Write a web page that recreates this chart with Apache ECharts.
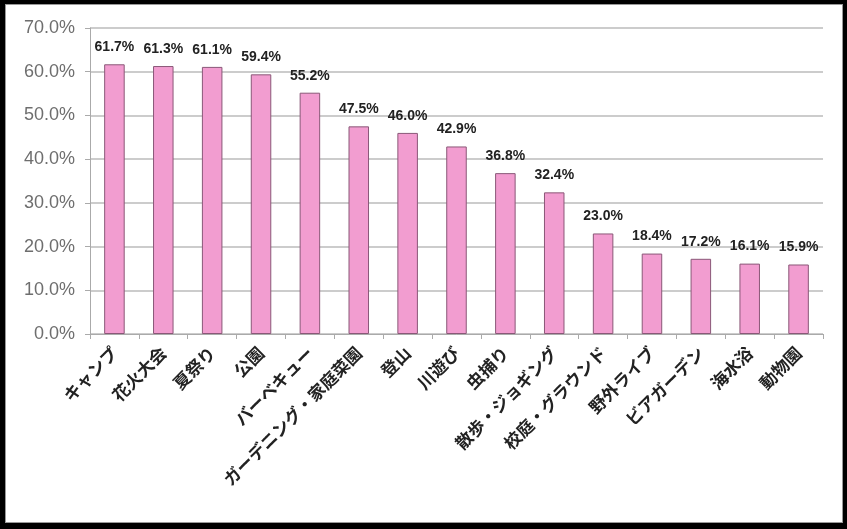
<!DOCTYPE html>
<html><head><meta charset="utf-8">
<script src="https://cdn.jsdelivr.net/npm/echarts@6/dist/echarts.min.js"></script>
<style>
html,body{margin:0;padding:0;background:#000;width:847px;height:529px;overflow:hidden;}
#box{position:absolute;left:5px;top:4px;width:836px;height:517px;background:#fff;border:1px solid #999;}
#c{position:absolute;left:-5px;top:-4px;width:847px;height:529px;}
</style></head>
<body>
<div id="box"><div id="c"></div></div>
<script>
const categories = ['キャンプ','花火大会','夏祭り','公園','バーベキュー','ガーデニング・家庭菜園','登山','川遊び','虫捕り','散歩・ジョギング','校庭・グラウンド','野外ライブ','ビアガーデン','海水浴','動物園'];
const values = [61.7,61.3,61.1,59.4,55.2,47.5,46.0,42.9,36.8,32.4,23.0,18.4,17.2,16.1,15.9];
const yMin = 0, yMax = 70, yStep = 10;

const chart = echarts.init(document.getElementById('c'));
chart.setOption({
  animation:false,
  grid:{left:89,right:25,top:27,bottom:196},
  xAxis:{
    type:'category', data:categories,
    axisLine:{lineStyle:{color:'#aaa',width:1}},
    axisTick:{show:true,alignWithLabel:false,length:5,lineStyle:{color:'#aaa'}},
    axisLabel:{rotate:45,interval:0,margin:16,color:'#222',fontSize:17,fontWeight:'bold',fontFamily:'"Noto Sans CJK JP", sans-serif'}
  },
  yAxis:{
    type:'value', min:yMin, max:yMax, interval:yStep,
    axisLine:{show:true,lineStyle:{color:'#aaa',width:1}},
    axisTick:{show:true,length:5,lineStyle:{color:'#aaa'}},
    splitLine:{lineStyle:{color:'#cccccc',width:2}},
    axisLabel:{margin:15,color:'#6e6e6e',fontSize:18,fontFamily:'"Liberation Sans", Arial, sans-serif',formatter:v=>v.toFixed(1)+'%'}
  },
  series:[{
    type:'bar', data:values, barWidth:'42%',
    itemStyle:{color:'#f29dd0',borderColor:'#8a5878',borderWidth:1},
    label:{show:true,position:'top',distance:10,color:'#222',fontSize:14,fontWeight:'bold',fontFamily:'"Liberation Sans", Arial, sans-serif',formatter:p=>p.value.toFixed(1)+'%'}
  }]
});
</script>
</body></html>
